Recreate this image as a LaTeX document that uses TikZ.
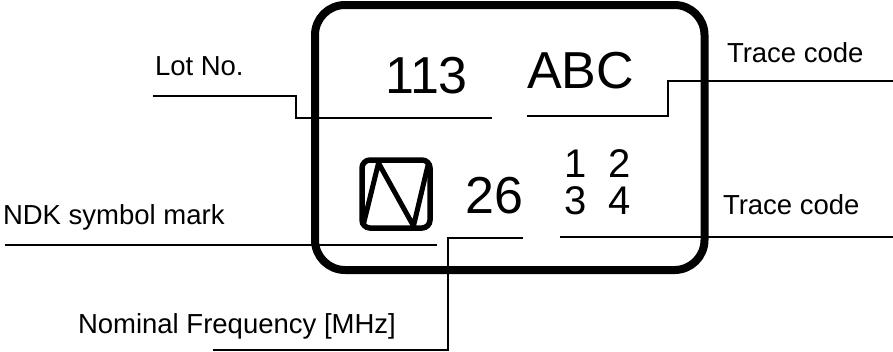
\documentclass[tikz,border=0pt]{standalone}
\usepackage{fontspec}
\setmainfont{Liberation Sans}
\tikzset{
  lbl/.style={anchor=base west,inner sep=0pt,outer sep=0pt,font=\fontsize{27.5bp}{30bp}\selectfont},
  mark big/.style={anchor=base west,inner sep=0pt,outer sep=0pt,font=\fontsize{52bp}{56bp}\selectfont},
  mark small/.style={anchor=base west,inner sep=0pt,outer sep=0pt,font=\fontsize{40bp}{44bp}\selectfont},
  leader/.style={draw=black,line width=2bp,line cap=butt,line join=miter},
  frame/.style={draw=black,line width=8bp,rounded corners=30bp},
  logo/.style={draw=black,line width=5.5bp,rounded corners=8bp},
  zig/.style={draw=black,line width=5bp,line join=round}
}
\begin{document}
\begin{tikzpicture}[x=1bp,y=-1bp]
\useasboundingbox (0,0) rectangle (893,351);
\draw[frame] (315,5) rectangle (704.5,270);
\draw[logo] (362,160) rectangle (430,228);
\coordinate (z1) at (363,226);
\coordinate (z2) at (378.5,163);
\coordinate (z3) at (413.5,226);
\coordinate (z4) at (428.5,163);
\draw[zig] (z1) -- (z2) -- (z3) -- (z4);
% labels
\node[lbl] (lot) at (155,75) {Lot No.};
\node[lbl] (tc1) at (727,62) {Trace code};
\node[lbl] (tc2) at (723,214) {Trace code};
\node[lbl] (ndk) at (3,224) {NDK symbol mark};
\node[lbl] (nom) at (78,333) {Nominal Frequency [MHz]};
\node[mark big] (m113) at (385,93) {113};
\node[mark big] (mabc) at (527,88) {ABC};
\node[mark big] (m26) at (465.5,213) {26};
\node[mark small] (m12) at (564,177) {1\ \ 2};
\node[mark small] (m34) at (564,214) {3\ \ 4};
% connectors
\coordinate (a0) at (153,95.7);
\coordinate (a1) at (296,95.7);
\coordinate (a2) at (296,117.5);
\coordinate (a3) at (491.7,117.5);
\draw[leader] (a0) -- (a1) -- (a2) -- (a3);
\coordinate (b0) at (526.7,116.3);
\coordinate (b1) at (668,116.3);
\coordinate (b2) at (668,81);
\coordinate (b3) at (893,81);
\draw[leader] (b0) -- (b1) -- (b2) -- (b3);
\coordinate (c0) at (5,245);
\coordinate (c1) at (436.7,245);
\draw[leader] (c0) -- (c1);
\coordinate (d0) at (522.7,238);
\coordinate (d1) at (448.3,238);
\coordinate (d2) at (448.3,349.7);
\coordinate (d3) at (213,349.7);
\draw[leader] (d0) -- (d1) -- (d2) -- (d3);
\coordinate (e0) at (560,236.7);
\coordinate (e1) at (893,236.7);
\draw[leader] (e0) -- (e1);
\end{tikzpicture}
\end{document}
